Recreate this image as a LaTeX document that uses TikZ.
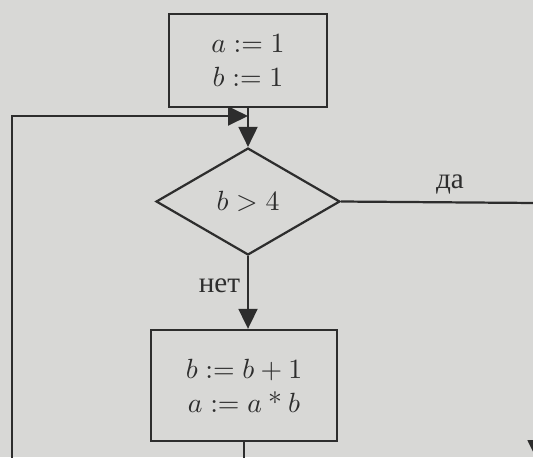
\documentclass[tikz,border=0pt]{standalone}
\usepackage{fontspec}
\newfontfamily\cyr{Liberation Serif}
\usetikzlibrary{shapes.geometric,arrows.meta}
\definecolor{paper}{RGB}{216,216,214}
\definecolor{ink}{RGB}{45,45,45}
\begin{document}
\begin{tikzpicture}[x=0.36pt,y=0.36pt,
  every node/.style={text=ink},
  line/.style={draw=ink,line width=0.8pt},
  arr/.style={line,-{Triangle[length=7.2pt,width=6.8pt]}},
  procbox/.style={line,rectangle,inner sep=0pt,align=center,
    font=\fontsize{10}{12.2}\selectfont},
  decision/.style={line,diamond,inner sep=0pt,aspect=1.72,
    minimum width=66.2pt,minimum height=38.5pt,font=\fontsize{10}{12}\selectfont},
  lbl/.style={font=\cyr\fontsize{10.5}{12}\selectfont}]
\clip (0,0) rectangle (533,457);
\fill[paper] (0,0) rectangle (533,457);
\node[procbox,minimum width=56.9pt,minimum height=33.5pt] (init) at (248,396.5) {$a := 1$\\$b := 1$};
\node[decision] (cond) at (248,255.5) {$b > 4$};
\node[procbox,minimum width=67pt,minimum height=40pt] (body) at (244,71.5) {$b := b + 1$\\$a := a \mathbin{\mbox{*}} b$};
\coordinate (join) at (248,341);
\coordinate (leftdown) at (12,-20);
\coordinate (yesright) at (537,254);
\coordinate (yesend) at (537,-3);
\node[lbl] (yes) at (450,273) {да};
\node[lbl] (no) at (219.5,171) {нет};
\draw[arr] (init.south) -- (cond.north);
\draw[arr] (cond.south) -- (cond.south |- body.north);
\draw[arr] (body.south) -- (body.south |- leftdown) -- (leftdown) |- (join);
\draw[arr] (cond.east) -- (yesright) -- (yesend);
\end{tikzpicture}
\end{document}
